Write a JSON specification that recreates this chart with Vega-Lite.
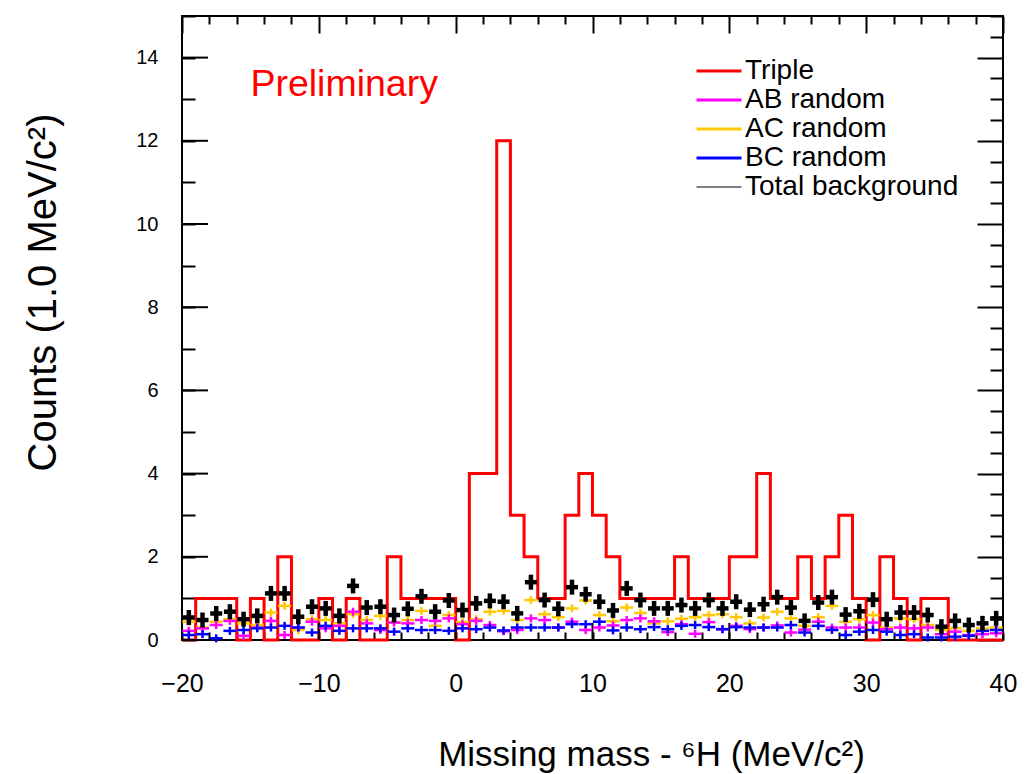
{
  "$schema": "https://vega.github.io/schema/vega-lite/v6.json",
  "width": 821,
  "height": 624,
  "autosize": "none",
  "padding": {"left": 182, "top": 16, "right": 22, "bottom": 134},
  "background": "white",
  "config": {
    "view": {"stroke": "black", "strokeWidth": 2},
    "font": "Liberation Sans"
  },
  "datasets": {
    "triple": [
      {"s":"Triple","x":-20,"n":0},{"s":"Triple","x":-19,"n":1},{"s":"Triple","x":-18,"n":1},{"s":"Triple","x":-17,"n":1},
      {"s":"Triple","x":-16,"n":0},{"s":"Triple","x":-15,"n":1},{"s":"Triple","x":-14,"n":0},{"s":"Triple","x":-13,"n":2},
      {"s":"Triple","x":-12,"n":0},{"s":"Triple","x":-11,"n":0},{"s":"Triple","x":-10,"n":1},{"s":"Triple","x":-9,"n":0},
      {"s":"Triple","x":-8,"n":1},{"s":"Triple","x":-7,"n":0},{"s":"Triple","x":-6,"n":0},{"s":"Triple","x":-5,"n":2},
      {"s":"Triple","x":-4,"n":1},{"s":"Triple","x":-3,"n":1},{"s":"Triple","x":-2,"n":1},{"s":"Triple","x":-1,"n":1},
      {"s":"Triple","x":0,"n":0},{"s":"Triple","x":1,"n":4},{"s":"Triple","x":2,"n":4},{"s":"Triple","x":3,"n":12},
      {"s":"Triple","x":4,"n":3},{"s":"Triple","x":5,"n":2},{"s":"Triple","x":6,"n":1},{"s":"Triple","x":7,"n":1},
      {"s":"Triple","x":8,"n":3},{"s":"Triple","x":9,"n":4},{"s":"Triple","x":10,"n":3},{"s":"Triple","x":11,"n":2},
      {"s":"Triple","x":12,"n":1},{"s":"Triple","x":13,"n":1},{"s":"Triple","x":14,"n":1},{"s":"Triple","x":15,"n":1},
      {"s":"Triple","x":16,"n":2},{"s":"Triple","x":17,"n":1},{"s":"Triple","x":18,"n":1},{"s":"Triple","x":19,"n":1},
      {"s":"Triple","x":20,"n":2},{"s":"Triple","x":21,"n":2},{"s":"Triple","x":22,"n":4},{"s":"Triple","x":23,"n":1},
      {"s":"Triple","x":24,"n":1},{"s":"Triple","x":25,"n":2},{"s":"Triple","x":26,"n":1},{"s":"Triple","x":27,"n":2},
      {"s":"Triple","x":28,"n":3},{"s":"Triple","x":29,"n":1},{"s":"Triple","x":30,"n":0},{"s":"Triple","x":31,"n":2},
      {"s":"Triple","x":32,"n":1},{"s":"Triple","x":33,"n":0},{"s":"Triple","x":34,"n":1},{"s":"Triple","x":35,"n":1},
      {"s":"Triple","x":36,"n":0},{"s":"Triple","x":37,"n":0},{"s":"Triple","x":38,"n":0},{"s":"Triple","x":39,"n":0},
      {"s":"Triple","x":40,"n":0}
    ],
    "bg": [
      {"s":"Total background","x":-19.5,"y":0.54},{"s":"Total background","x":-18.5,"y":0.48},{"s":"Total background","x":-17.5,"y":0.64},{"s":"Total background","x":-16.5,"y":0.68},{"s":"Total background","x":-15.5,"y":0.50},
      {"s":"Total background","x":-14.5,"y":0.58},{"s":"Total background","x":-13.5,"y":1.12},{"s":"Total background","x":-12.5,"y":1.12},{"s":"Total background","x":-11.5,"y":0.56},{"s":"Total background","x":-10.5,"y":0.80},
      {"s":"Total background","x":-9.5,"y":0.76},{"s":"Total background","x":-8.5,"y":0.58},{"s":"Total background","x":-7.5,"y":1.30},{"s":"Total background","x":-6.5,"y":0.78},{"s":"Total background","x":-5.5,"y":0.80},
      {"s":"Total background","x":-4.5,"y":0.60},{"s":"Total background","x":-3.5,"y":0.75},{"s":"Total background","x":-2.5,"y":1.05},{"s":"Total background","x":-1.5,"y":0.68},{"s":"Total background","x":-0.5,"y":0.95},
      {"s":"Total background","x":0.5,"y":0.72},{"s":"Total background","x":1.5,"y":0.88},{"s":"Total background","x":2.5,"y":0.94},{"s":"Total background","x":3.5,"y":0.92},{"s":"Total background","x":4.5,"y":0.64},
      {"s":"Total background","x":5.5,"y":1.39},{"s":"Total background","x":6.5,"y":0.96},{"s":"Total background","x":7.5,"y":0.75},{"s":"Total background","x":8.5,"y":1.27},{"s":"Total background","x":9.5,"y":1.10},
      {"s":"Total background","x":10.5,"y":0.92},{"s":"Total background","x":11.5,"y":0.71},{"s":"Total background","x":12.5,"y":1.24},{"s":"Total background","x":13.5,"y":0.96},{"s":"Total background","x":14.5,"y":0.76},
      {"s":"Total background","x":15.5,"y":0.76},{"s":"Total background","x":16.5,"y":0.84},{"s":"Total background","x":17.5,"y":0.76},{"s":"Total background","x":18.5,"y":0.96},{"s":"Total background","x":19.5,"y":0.76},
      {"s":"Total background","x":20.5,"y":0.92},{"s":"Total background","x":21.5,"y":0.73},{"s":"Total background","x":22.5,"y":0.86},{"s":"Total background","x":23.5,"y":1.03},{"s":"Total background","x":24.5,"y":0.78},
      {"s":"Total background","x":25.5,"y":0.46},{"s":"Total background","x":26.5,"y":0.90},{"s":"Total background","x":27.5,"y":1.03},{"s":"Total background","x":28.5,"y":0.61},{"s":"Total background","x":29.5,"y":0.69},
      {"s":"Total background","x":30.5,"y":0.97},{"s":"Total background","x":31.5,"y":0.50},{"s":"Total background","x":32.5,"y":0.66},{"s":"Total background","x":33.5,"y":0.66},{"s":"Total background","x":34.5,"y":0.60},
      {"s":"Total background","x":35.5,"y":0.32},{"s":"Total background","x":36.5,"y":0.46},{"s":"Total background","x":37.5,"y":0.36},{"s":"Total background","x":38.5,"y":0.40},{"s":"Total background","x":39.5,"y":0.52},

      {"s":"AC random","x":-19.5,"y":0.44},{"s":"AC random","x":-18.5,"y":0.30},{"s":"AC random","x":-17.5,"y":0.44},{"s":"AC random","x":-16.5,"y":0.50},{"s":"AC random","x":-15.5,"y":0.40},
      {"s":"AC random","x":-14.5,"y":0.36},{"s":"AC random","x":-13.5,"y":0.66},{"s":"AC random","x":-12.5,"y":0.82},{"s":"AC random","x":-11.5,"y":0.24},{"s":"AC random","x":-10.5,"y":0.50},
      {"s":"AC random","x":-9.5,"y":0.48},{"s":"AC random","x":-8.5,"y":0.40},{"s":"AC random","x":-7.5,"y":0.62},{"s":"AC random","x":-6.5,"y":0.48},{"s":"AC random","x":-5.5,"y":0.58},
      {"s":"AC random","x":-4.5,"y":0.42},{"s":"AC random","x":-3.5,"y":0.48},{"s":"AC random","x":-2.5,"y":0.70},{"s":"AC random","x":-1.5,"y":0.34},{"s":"AC random","x":-0.5,"y":0.60},
      {"s":"AC random","x":0.5,"y":0.43},{"s":"AC random","x":1.5,"y":0.50},{"s":"AC random","x":2.5,"y":0.68},{"s":"AC random","x":3.5,"y":0.70},{"s":"AC random","x":4.5,"y":0.48},
      {"s":"AC random","x":5.5,"y":0.96},{"s":"AC random","x":6.5,"y":0.62},{"s":"AC random","x":7.5,"y":0.55},{"s":"AC random","x":8.5,"y":0.76},{"s":"AC random","x":9.5,"y":0.95},
      {"s":"AC random","x":10.5,"y":0.60},{"s":"AC random","x":11.5,"y":0.45},{"s":"AC random","x":12.5,"y":0.78},{"s":"AC random","x":13.5,"y":0.65},{"s":"AC random","x":14.5,"y":0.40},
      {"s":"AC random","x":15.5,"y":0.45},{"s":"AC random","x":16.5,"y":0.51},{"s":"AC random","x":17.5,"y":0.55},{"s":"AC random","x":18.5,"y":0.60},{"s":"AC random","x":19.5,"y":0.62},
      {"s":"AC random","x":20.5,"y":0.55},{"s":"AC random","x":21.5,"y":0.40},{"s":"AC random","x":22.5,"y":0.54},{"s":"AC random","x":23.5,"y":0.68},{"s":"AC random","x":24.5,"y":0.52},
      {"s":"AC random","x":25.5,"y":0.34},{"s":"AC random","x":26.5,"y":0.55},{"s":"AC random","x":27.5,"y":0.82},{"s":"AC random","x":28.5,"y":0.44},{"s":"AC random","x":29.5,"y":0.50},
      {"s":"AC random","x":30.5,"y":0.60},{"s":"AC random","x":31.5,"y":0.30},{"s":"AC random","x":32.5,"y":0.52},{"s":"AC random","x":33.5,"y":0.50},{"s":"AC random","x":34.5,"y":0.36},
      {"s":"AC random","x":35.5,"y":0.24},{"s":"AC random","x":36.5,"y":0.28},{"s":"AC random","x":37.5,"y":0.22},{"s":"AC random","x":38.5,"y":0.28},{"s":"AC random","x":39.5,"y":0.30},

      {"s":"AB random","x":-19.5,"y":0.22},{"s":"AB random","x":-18.5,"y":0.28},{"s":"AB random","x":-17.5,"y":0.36},{"s":"AB random","x":-16.5,"y":0.46},{"s":"AB random","x":-15.5,"y":0.10},
      {"s":"AB random","x":-14.5,"y":0.30},{"s":"AB random","x":-13.5,"y":0.46},{"s":"AB random","x":-12.5,"y":0.12},{"s":"AB random","x":-11.5,"y":0.30},{"s":"AB random","x":-10.5,"y":0.44},
      {"s":"AB random","x":-9.5,"y":0.28},{"s":"AB random","x":-8.5,"y":0.34},{"s":"AB random","x":-7.5,"y":0.68},{"s":"AB random","x":-6.5,"y":0.40},{"s":"AB random","x":-5.5,"y":0.24},
      {"s":"AB random","x":-4.5,"y":0.42},{"s":"AB random","x":-3.5,"y":0.40},{"s":"AB random","x":-2.5,"y":0.48},{"s":"AB random","x":-1.5,"y":0.46},{"s":"AB random","x":-0.5,"y":0.52},
      {"s":"AB random","x":0.5,"y":0.38},{"s":"AB random","x":1.5,"y":0.46},{"s":"AB random","x":2.5,"y":0.36},{"s":"AB random","x":3.5,"y":0.21},{"s":"AB random","x":4.5,"y":0.24},
      {"s":"AB random","x":5.5,"y":0.52},{"s":"AB random","x":6.5,"y":0.48},{"s":"AB random","x":7.5,"y":0.30},{"s":"AB random","x":8.5,"y":0.44},{"s":"AB random","x":9.5,"y":0.24},
      {"s":"AB random","x":10.5,"y":0.30},{"s":"AB random","x":11.5,"y":0.35},{"s":"AB random","x":12.5,"y":0.48},{"s":"AB random","x":13.5,"y":0.52},{"s":"AB random","x":14.5,"y":0.45},
      {"s":"AB random","x":15.5,"y":0.19},{"s":"AB random","x":16.5,"y":0.38},{"s":"AB random","x":17.5,"y":0.15},{"s":"AB random","x":18.5,"y":0.43},{"s":"AB random","x":19.5,"y":0.26},
      {"s":"AB random","x":20.5,"y":0.34},{"s":"AB random","x":21.5,"y":0.26},{"s":"AB random","x":22.5,"y":0.30},{"s":"AB random","x":23.5,"y":0.35},{"s":"AB random","x":24.5,"y":0.18},
      {"s":"AB random","x":25.5,"y":0.25},{"s":"AB random","x":26.5,"y":0.44},{"s":"AB random","x":27.5,"y":0.30},{"s":"AB random","x":28.5,"y":0.30},{"s":"AB random","x":29.5,"y":0.30},
      {"s":"AB random","x":30.5,"y":0.42},{"s":"AB random","x":31.5,"y":0.26},{"s":"AB random","x":32.5,"y":0.30},{"s":"AB random","x":33.5,"y":0.28},{"s":"AB random","x":34.5,"y":0.30},
      {"s":"AB random","x":35.5,"y":0.14},{"s":"AB random","x":36.5,"y":0.20},{"s":"AB random","x":37.5,"y":0.12},{"s":"AB random","x":38.5,"y":0.14},{"s":"AB random","x":39.5,"y":0.16},

      {"s":"BC random","x":-19.5,"y":0.12},{"s":"BC random","x":-18.5,"y":0.14},{"s":"BC random","x":-17.5,"y":0.04},{"s":"BC random","x":-16.5,"y":0.22},{"s":"BC random","x":-15.5,"y":0.24},
      {"s":"BC random","x":-14.5,"y":0.28},{"s":"BC random","x":-13.5,"y":0.30},{"s":"BC random","x":-12.5,"y":0.34},{"s":"BC random","x":-11.5,"y":0.30},{"s":"BC random","x":-10.5,"y":0.18},
      {"s":"BC random","x":-9.5,"y":0.34},{"s":"BC random","x":-8.5,"y":0.22},{"s":"BC random","x":-7.5,"y":0.28},{"s":"BC random","x":-6.5,"y":0.28},{"s":"BC random","x":-5.5,"y":0.28},
      {"s":"BC random","x":-4.5,"y":0.20},{"s":"BC random","x":-3.5,"y":0.28},{"s":"BC random","x":-2.5,"y":0.24},{"s":"BC random","x":-1.5,"y":0.24},{"s":"BC random","x":-0.5,"y":0.22},
      {"s":"BC random","x":0.5,"y":0.28},{"s":"BC random","x":1.5,"y":0.26},{"s":"BC random","x":2.5,"y":0.30},{"s":"BC random","x":3.5,"y":0.23},{"s":"BC random","x":4.5,"y":0.30},
      {"s":"BC random","x":5.5,"y":0.30},{"s":"BC random","x":6.5,"y":0.30},{"s":"BC random","x":7.5,"y":0.30},{"s":"BC random","x":8.5,"y":0.38},{"s":"BC random","x":9.5,"y":0.38},
      {"s":"BC random","x":10.5,"y":0.44},{"s":"BC random","x":11.5,"y":0.23},{"s":"BC random","x":12.5,"y":0.30},{"s":"BC random","x":13.5,"y":0.26},{"s":"BC random","x":14.5,"y":0.31},
      {"s":"BC random","x":15.5,"y":0.26},{"s":"BC random","x":16.5,"y":0.34},{"s":"BC random","x":17.5,"y":0.36},{"s":"BC random","x":18.5,"y":0.31},{"s":"BC random","x":19.5,"y":0.26},
      {"s":"BC random","x":20.5,"y":0.31},{"s":"BC random","x":21.5,"y":0.30},{"s":"BC random","x":22.5,"y":0.30},{"s":"BC random","x":23.5,"y":0.30},{"s":"BC random","x":24.5,"y":0.36},
      {"s":"BC random","x":25.5,"y":0.18},{"s":"BC random","x":26.5,"y":0.34},{"s":"BC random","x":27.5,"y":0.24},{"s":"BC random","x":28.5,"y":0.12},{"s":"BC random","x":29.5,"y":0.20},
      {"s":"BC random","x":30.5,"y":0.24},{"s":"BC random","x":31.5,"y":0.20},{"s":"BC random","x":32.5,"y":0.12},{"s":"BC random","x":33.5,"y":0.14},{"s":"BC random","x":34.5,"y":0.06},
      {"s":"BC random","x":35.5,"y":0.06},{"s":"BC random","x":36.5,"y":0.08},{"s":"BC random","x":37.5,"y":0.10},{"s":"BC random","x":38.5,"y":0.22},{"s":"BC random","x":39.5,"y":0.24}
    ],
    "xmajor": [{"v":-20},{"v":-10},{"v":0},{"v":10},{"v":20},{"v":30},{"v":40}],
    "ymajor": [{"v":0},{"v":2},{"v":4},{"v":6},{"v":8},{"v":10},{"v":12},{"v":14}],
    "note": [{"label": "Preliminary"}]
  },
  "resolve": {"axis": {"x": "independent", "y": "independent"}},
  "layer": [
    {
      "data": {"name": "triple"},
      "mark": {"type": "line", "interpolate": "step-after", "strokeWidth": 3, "strokeJoin": "miter"},
      "encoding": {
        "x": {
          "field": "x", "type": "quantitative",
          "scale": {"domain": [-20, 40], "nice": false, "zero": false},
          "axis": {
            "orient": "bottom",
            "values": [-20,-18,-16,-14,-12,-10,-8,-6,-4,-2,0,2,4,6,8,10,12,14,16,18,20,22,24,26,28,30,32,34,36,38,40],
            "ticks": true, "tickColor": "black", "tickWidth": 2, "tickSize": -8,
            "domain": false, "grid": false,
            "labelExpr": "datum.value % 10 === 0 ? datum.label : ''",
            "labelOverlap": false, "labelFlush": false, "labelBound": false,
            "labelFont": "Liberation Sans", "labelFontSize": 25, "labelColor": "black", "labelPadding": 39,
            "title": "Missing mass - ⁶H (MeV/c²)",
            "titleFont": "Liberation Sans", "titleFontSize": 35, "titleFontWeight": "normal", "titleColor": "black",
            "titleX": 469, "titleY": 125, "titleAlign": "center", "titleBaseline": "alphabetic"
          }
        },
        "y": {
          "field": "n", "type": "quantitative",
          "scale": {"domain": [0, 15], "nice": false},
          "axis": {
            "orient": "left",
            "values": [0,0.5,1,1.5,2,2.5,3,3.5,4,4.5,5,5.5,6,6.5,7,7.5,8,8.5,9,9.5,10,10.5,11,11.5,12,12.5,13,13.5,14,14.5,15],
            "ticks": true, "tickColor": "black", "tickWidth": 2, "tickSize": -13,
            "domain": false, "grid": false, "format": "d",
            "labelExpr": "datum.value % 2 === 0 ? datum.label : ''",
            "labelOverlap": false, "labelFlush": false, "labelBound": false,
            "labelFont": "Liberation Sans", "labelFontSize": 20, "labelColor": "black", "labelPadding": 37,
            "title": "Counts (1.0 MeV/c²)",
            "titleFont": "Liberation Sans", "titleFontSize": 40, "titleFontWeight": "normal", "titleColor": "black",
            "titleAngle": -90, "titleX": -127, "titleY": 276, "titleAlign": "center", "titleBaseline": "alphabetic"
          }
        },
        "color": {
          "field": "s", "type": "nominal",
          "scale": {
            "domain": ["Triple", "AB random", "AC random", "BC random", "Total background"],
            "range": ["#ff0000", "#ff00ff", "#ffc800", "#0000ff", "#000000"]
          },
          "legend": {
            "title": null, "orient": "none", "legendX": 523, "legendY": 41,
            "symbolType": "stroke", "symbolSize": 2025, "symbolStrokeWidth": 3,
            "labelFont": "Liberation Sans", "labelFontSize": 28, "labelColor": "black", "labelOffset": 12,
            "rowPadding": 1, "padding": 0, "labelLimit": 400,
            "encode": {"symbols": {"update": {
              "stroke": {"scale": "color", "field": "value"},
              "fill": {"value": "transparent"},
              "strokeWidth": {"signal": "datum.value === 'Total background' ? 1.2 : 3"}
            }}}
          }
        }
      }
    },
    {
      "data": {"name": "xmajor"},
      "mark": {"type": "tick", "orient": "vertical", "size": 17, "thickness": 2, "color": "black", "opacity": 1},
      "encoding": {
        "x": {"field": "v", "type": "quantitative", "axis": null},
        "y": {"datum": 0.205, "type": "quantitative", "axis": null}
      }
    },
    {
      "data": {"name": "ymajor"},
      "mark": {"type": "tick", "orient": "horizontal", "size": 26, "thickness": 2, "color": "black", "opacity": 1},
      "encoding": {
        "y": {"field": "v", "type": "quantitative", "axis": null},
        "x": {"datum": -19.05, "type": "quantitative", "axis": null}
      }
    },
    {
      "data": {"name": "bg"},
      "transform": [{"filter": "datum.s !== 'Total background'"}],
      "mark": {"type": "tick", "orient": "horizontal", "size": 13, "thickness": 2.5, "opacity": 1},
      "encoding": {
        "x": {"field": "x", "type": "quantitative", "axis": null},
        "y": {"field": "y", "type": "quantitative", "axis": null},
        "color": {"field": "s", "type": "nominal"}
      }
    },
    {
      "data": {"name": "bg"},
      "transform": [{"filter": "datum.s !== 'Total background'"}],
      "mark": {"type": "tick", "orient": "vertical", "size": 8, "thickness": 2.5, "opacity": 1},
      "encoding": {
        "x": {"field": "x", "type": "quantitative", "axis": null},
        "y": {"field": "y", "type": "quantitative", "axis": null},
        "color": {"field": "s", "type": "nominal"}
      }
    },
    {
      "data": {"name": "bg"},
      "transform": [{"filter": "datum.s === 'Total background'"}],
      "mark": {"type": "tick", "orient": "horizontal", "size": 12, "thickness": 4.5, "opacity": 1},
      "encoding": {
        "x": {"field": "x", "type": "quantitative", "axis": null},
        "y": {"field": "y", "type": "quantitative", "axis": null},
        "color": {"field": "s", "type": "nominal"}
      }
    },
    {
      "data": {"name": "bg"},
      "transform": [{"filter": "datum.s === 'Total background'"}],
      "mark": {"type": "tick", "orient": "vertical", "size": 15, "thickness": 4.5, "opacity": 1},
      "encoding": {
        "x": {
          "field": "x", "type": "quantitative",
          "axis": {
            "orient": "top",
            "values": [-20,-18,-16,-14,-12,-10,-8,-6,-4,-2,0,2,4,6,8,10,12,14,16,18,20,22,24,26,28,30,32,34,36,38,40],
            "ticks": true, "tickColor": "black", "tickWidth": 2,
            "tickSize": {"condition": {"test": "datum.value % 10 === 0", "value": -17}, "value": -8},
            "domain": false, "grid": false, "labels": false, "title": null
          }
        },
        "y": {
          "field": "y", "type": "quantitative",
          "axis": {
            "orient": "right",
            "values": [0,0.5,1,1.5,2,2.5,3,3.5,4,4.5,5,5.5,6,6.5,7,7.5,8,8.5,9,9.5,10,10.5,11,11.5,12,12.5,13,13.5,14,14.5,15],
            "ticks": true, "tickColor": "black", "tickWidth": 2,
            "tickSize": {"condition": {"test": "datum.value % 2 === 0", "value": -26}, "value": -13},
            "domain": false, "grid": false, "labels": false, "title": null
          }
        },
        "color": {"field": "s", "type": "nominal"}
      }
    },
    {
      "data": {"name": "note"},
      "mark": {"type": "text", "align": "left", "baseline": "middle", "fontSize": 37.5, "font": "Liberation Sans", "color": "#ff0000"},
      "encoding": {
        "text": {"field": "label"},
        "x": {"datum": -15, "type": "quantitative", "axis": null},
        "y": {"datum": 13.34, "type": "quantitative", "axis": null}
      }
    }
  ]
}
